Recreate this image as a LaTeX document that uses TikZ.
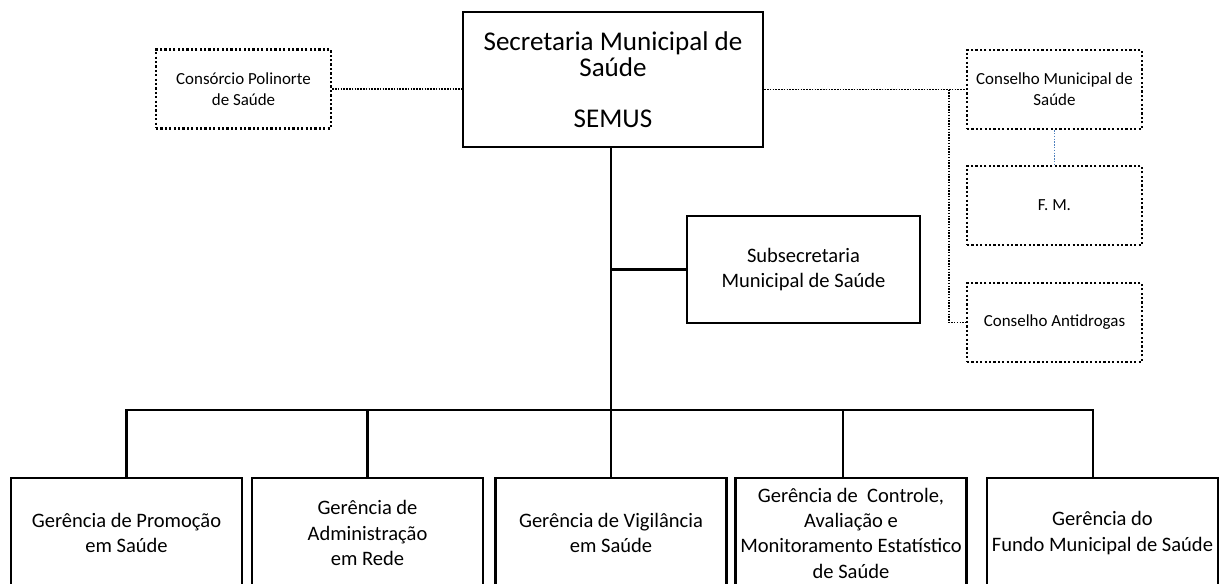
\documentclass[tikz,border=0pt]{standalone}
\usepackage{fontspec}
\setmainfont{Carlito}
\definecolor{linkblue}{RGB}{79,129,189}
\begin{document}
\begin{tikzpicture}[x=0.75pt,y=-0.75pt,
  solidbox/.style={draw,line width=1.9pt,inner sep=0pt,align=center},
  dotbox/.style={draw,line width=1.9pt,dash pattern=on 1.7pt off 1.6pt,inner sep=0pt,align=center,
    minimum width=131.25pt,minimum height=59pt,font=\fontsize{12.7}{15.8}\selectfont},
  gerbox/.style={solidbox,minimum width=173.25pt,minimum height=82.5pt,font=\fontsize{15.4}{19}\selectfont},
  link/.style={line width=1.7pt},
  dotlink/.style={line width=1.2pt,dash pattern=on 1.1pt off 1pt}]
\useasboundingbox (0,0) rectangle (1220,583);
\clip (0,0) rectangle (1220,583);
\node[solidbox,minimum width=225pt,minimum height=101.25pt,font=\fontsize{20.3}{19.5}\selectfont] (semus) at (613,79.5)
  {Secretaria Municipal de\\Saúde\\[18.5pt]SEMUS};
\node[dotbox] (polinorte) at (243.5,89) {Consórcio Polinorte\\de Saúde};
\node[dotbox] (conselho) at (1054.5,89.5) {Conselho Municipal de\\Saúde};
\node[dotbox] (fm) at (1054.5,205.5) {F. M.};
\node[dotbox] (antidrogas) at (1054.5,322.5) {Conselho Antidrogas};
\node[solidbox,minimum width=174.75pt,minimum height=80.25pt,font=\fontsize{15.4}{19}\selectfont] (subsec) at (803.5,269.5)
  {Subsecretaria\\Municipal de Saúde};
% gerencias
\node[gerbox] (promocao) at (126.5,533) {Gerência de Promoção\\em Saúde};
\node[gerbox] (rede) at (367.5,533) {Gerência de\\Administração\\em Rede};
\node[gerbox] (vigilancia) at (611,533) {Gerência de Vigilância\\em Saúde};
\node[gerbox] (controle) at (851,533) {Gerência de~ Controle,\\Avaliação e\\Monitoramento Estatístico\\de Saúde};
\node[gerbox] (fundo) at (1102.5,533) {Gerência do\\Fundo Municipal de Saúde};
\coordinate (bar) at (611,410);
\coordinate (jn) at (949,0);
% solid links
\draw[link] (semus.south -| vigilancia.north) -- (vigilancia.north);
\draw[link] (subsec.west) -- (subsec.west -| vigilancia.north);
\draw[link] (promocao.north) |- (bar) -| ([xshift=-7pt]fundo.north);
\draw[link] (rede.north) -- (rede.north |- bar);
\draw[link] ([xshift=-6pt]controle.north) -- ([xshift=-6pt]controle.north |- bar);
% dotted links
\draw[dotlink] (polinorte.east) -- (polinorte.east -| semus.west);
\draw[dotlink] (semus.east |- conselho.west) -- (conselho.west);
\draw[dotlink] (jn |- conselho.west) |- (antidrogas.west);
\draw[dotlink,linkblue] (conselho.south) -- (fm.north);
\end{tikzpicture}
\end{document}
